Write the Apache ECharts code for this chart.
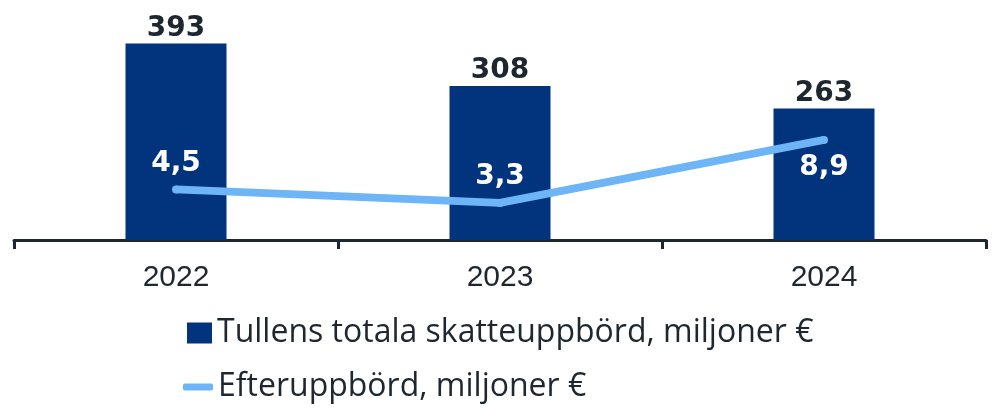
<!DOCTYPE html>
<html>
<head>
<meta charset="utf-8">
<script src="https://cdn.jsdelivr.net/npm/echarts@6/dist/echarts.min.js"></script>
<style>html,body{margin:0;padding:0;background:#fff;}#c{width:1001px;height:416px;}</style>
</head>
<body>
<div id="c"></div>
<script>
const categories = ['2022', '2023', '2024'];
const totalTax = [393, 308, 263];
const backTax = [4.5, 3.3, 8.9];
const seriesNames = ['Tullens totala skatteuppbörd, miljoner €', 'Efteruppbörd, miljoner €'];

const dark = '#1e2730';
const barColor = '#02337d';
const lineColor = '#6db5f6';
const fmt = v => String(v).replace('.', ',');

const chart = echarts.init(document.getElementById('c'), null, {renderer: 'canvas'});
chart.setOption({
  animation: false,
  backgroundColor: '#fff',
  grid: {left: 14, right: 15, top: 15, bottom: 176, containLabel: false},
  xAxis: {
    type: 'category',
    data: categories,
    axisLine: {show: true, lineStyle: {color: dark, width: 3}},
    axisTick: {show: true, length: 9, lineStyle: {color: dark, width: 3}},
    axisLabel: {color: dark, fontFamily: 'Liberation Sans, Arial, sans-serif', fontSize: 30, lineHeight: 30, margin: 23}
  },
  yAxis: [
    {type: 'value', min: 0, max: 450, show: false, splitLine: {show: false}},
    {type: 'value', min: 0, max: 20, show: false, splitLine: {show: false}}
  ],
  legend: [
    {
      data: [{name: seriesNames[0], icon: 'rect'}],
      left: 187, top: 317, padding: 0, itemWidth: 25, itemHeight: 21, itemGap: 0,
      textStyle: {color: dark, fontFamily: 'Open Sans, sans-serif', fontSize: 32},
      selectedMode: false
    },
    {
      data: [{name: seriesNames[1], icon: 'roundRect'}],
      left: 183, top: 371, padding: 0, itemWidth: 30, itemHeight: 7, itemGap: 0,
      textStyle: {color: dark, fontFamily: 'Open Sans, sans-serif', fontSize: 32},
      selectedMode: false
    }
  ],
  series: [
    {
      name: seriesNames[0],
      type: 'bar',
      data: totalTax,
      yAxisIndex: 0,
      barWidth: 101,
      itemStyle: {color: barColor},
      label: {show: true, position: 'top', distance: 1, color: dark, fontFamily: 'DejaVu Sans, sans-serif', fontWeight: 'bold', fontSize: 28, lineHeight: 28}
    },
    {
      name: seriesNames[1],
      type: 'line',
      yAxisIndex: 1,
      data: backTax.map((v, i) => ({value: v, label: {position: i === backTax.length - 1 ? 'bottom' : 'top', distance: i === backTax.length - 1 ? 10 : 8}})),
      symbol: 'circle',
      symbolSize: 8,
      lineStyle: {color: lineColor, width: 8},
      itemStyle: {color: lineColor},
      label: {show: true, color: '#ffffff', fontFamily: 'DejaVu Sans, sans-serif', fontWeight: 'bold', fontSize: 28, lineHeight: 28, formatter: p => fmt(p.value)}
    }
  ]
});
</script>
</body>
</html>
